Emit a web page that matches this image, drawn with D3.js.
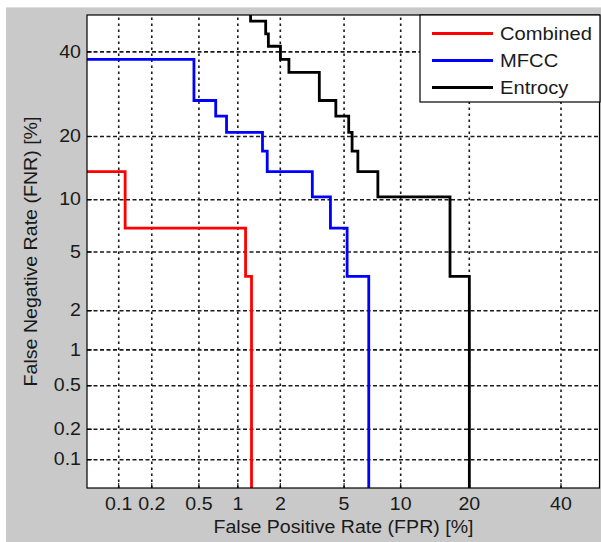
<!DOCTYPE html>
<html>
<head>
<meta charset="utf-8">
<script src="https://cdn.jsdelivr.net/npm/d3@7"></script>
<style>
  body { margin: 0; background: #fff; }
  svg text { font-family: "Liberation Sans", Arial, sans-serif; fill: #1a1a1a; }
</style>
</head>
<body>
<div id="chart"></div>
<script>
// DET curve values, percent
var xTicks = [0.1, 0.2, 0.5, 1, 2, 5, 10, 20, 40];
var yTicks = [0.1, 0.2, 0.5, 1, 2, 5, 10, 20, 40];
var seriesNames = ["Combined", "MFCC", "Entrocy"];
var seriesColors = ["#ff0000", "#0000ff", "#000000"];

var combinedFPR = [0, 0.116, 1.15, 1.27];
var combinedFNR = [13.8, 6.9, 3.45, 0];

var mfccFPR = [0, 0.46, 0.685, 0.83, 1.52, 1.64, 3.25, 4.19, 5.24, 6.9];
var mfccFNR = [37.9, 27.6, 24.1, 20.7, 17.2, 13.8, 10.3, 6.9, 3.45, 0];

var entrocyFPR = [1.25, 1.25, 1.60, 1.67, 2.02, 2.30, 3.59, 4.51, 5.35, 5.59, 6.02, 7.71, 16.8, 20.1];
var entrocyFNR = [60, 48.3, 44.8, 41.4, 37.9, 34.5, 27.6, 24.1, 20.7, 17.2, 13.8, 10.3, 3.45, 0];

// inverse normal cdf (Acklam)
function probit(p) {
	p = Math.min(Math.max(p, 1e-7), 1 - 1e-7);
	var a = [-3.969683028665376e+01, 2.209460984245205e+02, -2.759285104469687e+02, 1.383577518672690e+02, -3.066479806614716e+01, 2.506628277459239e+00];
	var b = [-5.447609879822406e+01, 1.615858368580409e+02, -1.556989798598866e+02, 6.680131188771972e+01, -1.328068155288572e+01];
	var c = [-7.784894002430293e-03, -3.223964580411365e-01, -2.400758277161838e+00, -2.549732539343734e+00, 4.374664141464968e+00, 2.938163982698783e+00];
	var d = [7.784695709041462e-03, 3.224671290700398e-01, 2.445134137142996e+00, 3.754408661907416e+00];
	var q, r;
	if (p < 0.02425) {
		q = Math.sqrt(-2 * Math.log(p));
		return (((((c[0]*q+c[1])*q+c[2])*q+c[3])*q+c[4])*q+c[5]) / ((((d[0]*q+d[1])*q+d[2])*q+d[3])*q+1);
	} else if (p > 1 - 0.02425) {
		q = Math.sqrt(-2 * Math.log(1 - p));
		return -(((((c[0]*q+c[1])*q+c[2])*q+c[3])*q+c[4])*q+c[5]) / ((((d[0]*q+d[1])*q+d[2])*q+d[3])*q+1);
	}
	q = p - 0.5;
	r = q * q;
	return (((((a[0]*r+a[1])*r+a[2])*r+a[3])*r+a[4])*r+a[5])*q / (((((b[0]*r+b[1])*r+b[2])*r+b[3])*r+b[4])*r+1);
}
function pr(v) { return probit(v / 100); }

(function() {
	var W = 601, H = 542;
	var pLeft = 87, pRight = 600, pTop = 15, pBottom = 488;
	var stretch = 1.12;

	var svg = d3.select("#chart").append("svg")
		.attr("width", W)
		.attr("height", H);

	// grey figure background
	svg.append("rect")
		.attr("x", 6).attr("y", 7)
		.attr("width", W - 6).attr("height", H - 7)
		.attr("fill", "#c9c9c9");
	svg.append("line")
		.attr("x1", 6).attr("x2", W).attr("y1", 7.5).attr("y2", 7.5)
		.attr("stroke", "#dedede");

	var x = d3.scaleLinear().domain([pr(0.05), pr(50)]).range([pLeft, pRight]);
	var y = d3.scaleLinear().domain([pr(0.05), pr(50)]).range([pBottom, pTop]);

	svg.append("rect")
		.attr("x", pLeft).attr("y", pTop)
		.attr("width", pRight - pLeft).attr("height", pBottom - pTop)
		.attr("fill", "#fff");

	// grid
	var gx = svg.append("g")
		.attr("transform", "translate(0," + pBottom + ")")
		.call(d3.axisBottom(x).tickValues(xTicks.map(pr)).tickSize(-(pBottom - pTop)).tickFormat(""));
	gx.select(".domain").remove();
	gx.selectAll("line")
		.attr("stroke", "#1a1a1a")
		.attr("stroke-width", 1.6)
		.attr("stroke-dasharray", "2.5,3.5");

	var gy = svg.append("g")
		.attr("transform", "translate(" + pLeft + ",0)")
		.call(d3.axisLeft(y).tickValues(yTicks.map(pr)).tickSize(-(pRight - pLeft)).tickFormat(""));
	gy.select(".domain").remove();
	gy.selectAll("line")
		.attr("stroke", "#1a1a1a")
		.attr("stroke-width", 1.6)
		.attr("stroke-dasharray", "4,2.5");

	// small inside ticks
	svg.append("g")
		.attr("transform", "translate(0," + pBottom + ")")
		.call(d3.axisBottom(x).tickValues(xTicks.map(pr)).tickSize(-5).tickFormat(""))
		.call(function(g) { g.select(".domain").remove(); g.selectAll("line").attr("stroke", "#000"); });
	svg.append("g")
		.attr("transform", "translate(" + pLeft + ",0)")
		.call(d3.axisLeft(y).tickValues(yTicks.map(pr)).tickSize(-5).tickFormat(""))
		.call(function(g) { g.select(".domain").remove(); g.selectAll("line").attr("stroke", "#000"); });

	// curves
	svg.append("clipPath").attr("id", "clip")
		.append("rect")
		.attr("x", pLeft).attr("y", pTop)
		.attr("width", pRight - pLeft).attr("height", pBottom - pTop);

	var series = [
		d3.zip(combinedFPR, combinedFNR),
		d3.zip(mfccFPR, mfccFNR),
		d3.zip(entrocyFPR, entrocyFNR)
	];

	var line = d3.line()
		.x(function(d) { return x(pr(d[0])); })
		.y(function(d) { return y(pr(d[1])); })
		.curve(d3.curveStepAfter);

	svg.append("g").attr("clip-path", "url(#clip)")
		.selectAll("path")
		.data(series)
		.enter().append("path")
		.attr("d", line)
		.attr("fill", "none")
		.attr("stroke", function(d, i) { return seriesColors[i]; })
		.attr("stroke-width", 2.8);

	// frame
	svg.append("rect")
		.attr("x", pLeft).attr("y", pTop)
		.attr("width", pRight - pLeft - 0.5).attr("height", pBottom - pTop)
		.attr("fill", "none")
		.attr("stroke", "#000")
		.attr("stroke-width", 1.2);

	// tick labels
	var xl = svg.append("g")
		.attr("transform", "translate(0," + pBottom + ")")
		.call(d3.axisBottom(x).tickValues(xTicks.map(pr)).tickSize(0).tickPadding(10)
			.tickFormat(function(d, i) { return xTicks[i]; }));
	xl.select(".domain").remove();
	xl.selectAll("text")
		.attr("font-size", 17.5)
		.attr("transform", "scale(" + stretch + ",1)");

	var yl = svg.append("g")
		.attr("transform", "translate(" + pLeft + ",0)")
		.call(d3.axisLeft(y).tickValues(yTicks.map(pr)).tickSize(0).tickPadding(6)
			.tickFormat(function(d, i) { return yTicks[i]; }));
	yl.select(".domain").remove();
	yl.selectAll("text")
		.attr("font-size", 17.5)
		.attr("x", 0)
		.attr("transform", "translate(-6,0) scale(" + stretch + ",1)");

	// axis titles
	svg.append("text")
		.attr("transform", "translate(" + ((pLeft + pRight) / 2) + ",533) scale(" + stretch + ",1)")
		.attr("text-anchor", "middle")
		.attr("font-size", 17.5)
		.text("False Positive Rate (FPR) [%]");

	svg.append("text")
		.attr("transform", "translate(37," + ((pTop + pBottom) / 2) + ") rotate(-90) scale(" + stretch + ",1)")
		.attr("text-anchor", "middle")
		.attr("font-size", 17.5)
		.text("False Negative Rate (FNR) [%]");

	// legend
	var lg = svg.append("g").attr("transform", "translate(420," + pTop + ")");
	lg.append("rect")
		.attr("width", 180).attr("height", 87)
		.attr("fill", "#fff")
		.attr("stroke", "#000")
		.attr("stroke-width", 1.2);
	var item = lg.selectAll(".item")
		.data(seriesNames)
		.enter().append("g")
		.attr("transform", function(d, i) { return "translate(0," + (18.5 + i * 27) + ")"; });
	item.append("line")
		.attr("x1", 12).attr("x2", 73)
		.attr("stroke", function(d, i) { return seriesColors[i]; })
		.attr("stroke-width", 2.8);
	item.append("text")
		.attr("transform", "translate(80,6.5) scale(" + stretch + ",1)")
		.attr("font-size", 18)
		.text(function(d) { return d; });
})();
</script>
</body>
</html>
